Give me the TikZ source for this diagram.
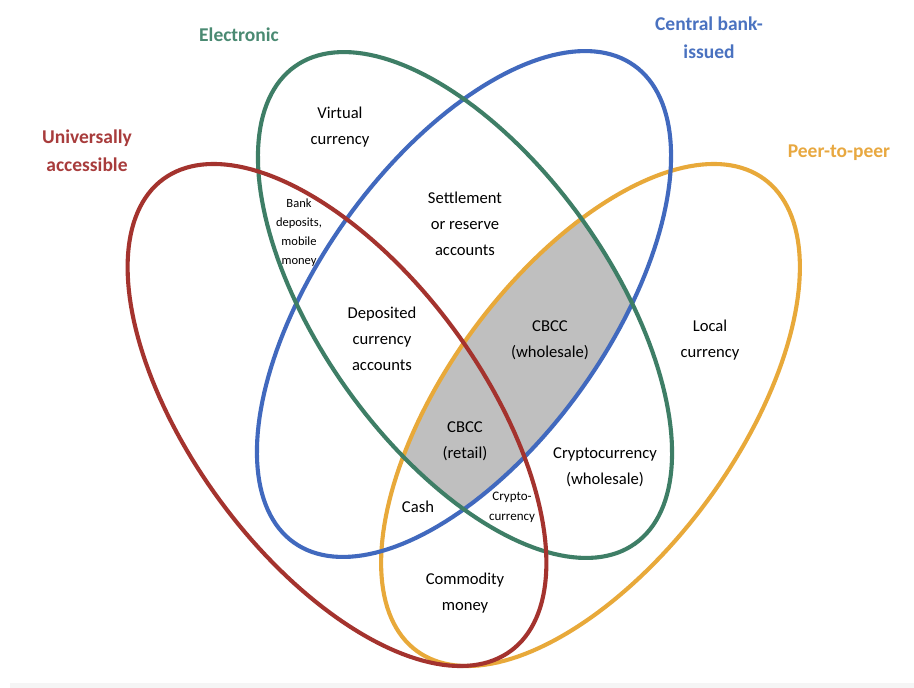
\documentclass[tikz,border=0pt]{standalone}
\usepackage{fontspec}
\setmainfont{Carlito}
\definecolor{cred}{HTML}{A4332E}
\definecolor{cgreen}{HTML}{3E7E66}
\definecolor{cblue}{HTML}{4169BE}
\definecolor{cyellow}{HTML}{E8A93A}
\definecolor{tred}{HTML}{A83C3C}
\definecolor{tgreen}{HTML}{4A8A72}
\definecolor{tblue}{HTML}{4A72C0}
\definecolor{tyellow}{HTML}{E8A840}
\definecolor{cgray}{HTML}{BFBFBF}
\tikzset{
  ring/.style={line width=4.1pt, line join=round},
  lbl/.style={inner sep=0pt, align=center, font=\fontsize{16.6}{26}\selectfont},
  small/.style={inner sep=0pt, align=center, font=\fontsize{12.5}{19}\selectfont},
  smalltwo/.style={inner sep=0pt, align=center, font=\fontsize{13}{20}\selectfont},
  title/.style={inner sep=0pt, align=center, font=\bfseries\fontsize{19.5}{28}\selectfont},
}
% ellipse: centre (#1,#2), screen angle #3, semi-axes 293 and 145
\newcommand\ringpath[3]{plot[domain=0:360, samples=181, variable=\t]
  ({#1 + 293*cos(\t)*cos(#3) - 145*sin(\t)*sin(#3)},
   {#2 + 293*cos(\t)*sin(#3) + 145*sin(\t)*cos(#3)}) -- cycle}
\def\redpath{\ringpath{337}{415}{53.6}}
\def\greenpath{\ringpath{465}{305}{54.5}}
\def\bluepath{\ringpath{464}{304}{-54.5}}
\def\yellowpath{\ringpath{590.5}{415}{-53.6}}
\begin{document}
\begin{tikzpicture}[x=1pt, y=-1pt]
\useasboundingbox (0,0) rectangle (914,688);
\fill[white] (0,0) rectangle (914,688);
\fill[black!4] (10,683) rectangle (914,688);
\begin{scope}
  \clip \bluepath;
  \clip \greenpath;
  \fill[cgray] \yellowpath;
\end{scope}
\draw[ring, cyellow] \yellowpath;
\draw[ring, cblue] \bluepath;
\draw[ring, cgreen] \greenpath;
\draw[ring, cred] \redpath;
% titles
\node[title, text=tgreen] (tEl) at (239,35) {Electronic};
\node[title, text=tred] (tUn) at (87,151) {Universally\\accessible};
\node[title, text=tblue] (tCb) at (709,38) {Central bank-\\issued};
\node[title, text=tyellow] (tPp) at (839,153) {Peer-to-peer};
% labels
\node[lbl] (vc) at (340,127) {Virtual\\currency};
\node[small] (bd) at (299,233) {Bank\\deposits,\\mobile\\money};
\node[lbl] (sr) at (465,224) {Settlement\\or reserve\\accounts};
\node[lbl] (dc) at (382,339) {Deposited\\currency\\accounts};
\node[lbl] (cw) at (550,340) {CBCC\\(wholesale)};
\node[lbl] (lc) at (710,340) {Local\\currency};
\node[lbl] (cr) at (465,441) {CBCC\\(retail)};
\node[lbl] (cwh) at (605,467) {Cryptocurrency\\(wholesale)};
\node[lbl] (ca) at (418,507) {Cash};
\node[smalltwo] (cc) at (512,507) {Crypto-\\currency};
\node[lbl] (cm) at (465,593) {Commodity\\money};
\end{tikzpicture}
\end{document}
